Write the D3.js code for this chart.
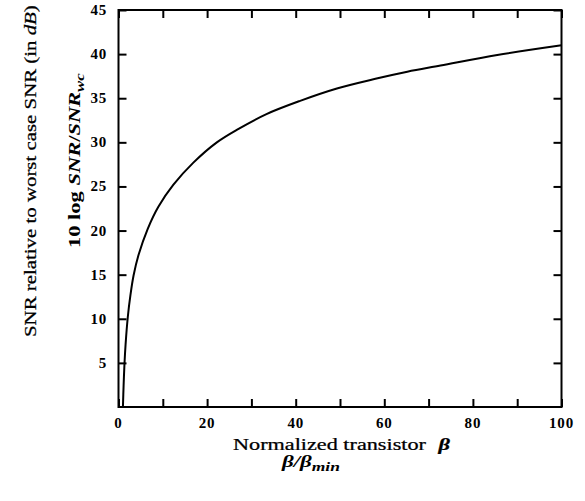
<!DOCTYPE html>
<html>
<head>
<meta charset="utf-8">
<script src="https://cdn.jsdelivr.net/npm/d3@7"></script>
<style>
  html, body { margin: 0; padding: 0; background: #fff; }
  svg { display: block; }
  text { font-family: "Liberation Serif", "Times New Roman", serif; fill: #000; }
</style>
</head>
<body>
<svg id="chart" width="585" height="501"></svg>
<script>
// ---- data ----
const betaValues = [1, 1.15, 1.35, 1.6, 2.1, 2.7, 3.4, 4.5, 6.6, 9, 12.4, 16.9, 22.2, 27, 33.4, 41, 49.3, 58, 65.2, 72.7, 85.5, 100];
const snrValues  = [0, 2.4, 4.9, 7.1, 10.2, 12.7, 14.9, 17.2, 20.2, 22.7, 25.2, 27.7, 30.0, 31.5, 33.2, 34.7, 36.1, 37.2, 38.0, 38.7, 39.9, 41.0];
const xTickValues = [0, 10, 20, 30, 40, 50, 60, 70, 80, 90, 100];
const xTickLabels = [0, 20, 40, 60, 80, 100];
const yTickValues = [5, 10, 15, 20, 25, 30, 35, 40, 45];

const svg = d3.select("#chart");
const m = { left: 118.5, right: 561.5, top: 10, bottom: 407 };

const x = d3.scaleLinear().domain([0, 100]).range([m.left, m.right]);
const y = d3.scaleLinear().domain([0, 45]).range([m.bottom, m.top]);

const tickLen = 8;
const g = svg.append("g");

// frame
g.append("rect")
  .attr("x", m.left).attr("y", m.top)
  .attr("width", m.right - m.left).attr("height", m.bottom - m.top)
  .attr("fill", "none").attr("stroke", "#000").attr("stroke-width", 2);

// ticks on all four sides, pointing inward
g.append("g").attr("transform", `translate(0,${m.bottom})`)
  .call(d3.axisBottom(x).tickValues(xTickValues).tickSize(-tickLen).tickFormat(""));
g.append("g").attr("transform", `translate(0,${m.top})`)
  .call(d3.axisTop(x).tickValues(xTickValues).tickSize(-tickLen).tickFormat(""));
g.append("g").attr("transform", `translate(${m.left},0)`)
  .call(d3.axisLeft(y).tickValues(yTickValues).tickSize(-tickLen).tickFormat(""));
g.append("g").attr("transform", `translate(${m.right},0)`)
  .call(d3.axisRight(y).tickValues(yTickValues).tickSize(-tickLen).tickFormat(""));
g.selectAll(".domain").remove();
g.selectAll(".tick line").attr("stroke", "#000").attr("stroke-width", 2);

// tick labels
g.selectAll(".xlab").data(xTickLabels).enter().append("text")
  .attr("x", d => x(d)).attr("y", 428)
  .attr("text-anchor", "middle")
  .attr("font-size", 15).attr("font-weight", "bold").attr("letter-spacing", 0.8)
  .text(d => d);

g.selectAll(".ylab").data(yTickValues).enter().append("text")
  .attr("x", 107).attr("y", d => y(d) + 5)
  .attr("text-anchor", "end")
  .attr("font-size", 15).attr("font-weight", "bold").attr("letter-spacing", 0.8)
  .text(d => d);

// curve
const line = d3.line()
  .x((d, i) => x(betaValues[i]))
  .y(d => y(d))
  .curve(d3.curveCatmullRom.alpha(0.5));
g.append("path")
  .datum(snrValues)
  .attr("d", line)
  .attr("fill", "none").attr("stroke", "#000").attr("stroke-width", 2);

// widen a text (placed at 0,0) to a target length along its own baseline
function fit(sel, base, target) {
  const w = sel.node().getComputedTextLength();
  sel.attr("transform", `${base} scale(${target / w},1)`);
}

// x axis titles
const xt1 = svg.append("text")
  .attr("font-size", 16).attr("stroke", "#000").attr("stroke-width", 0.25);
xt1.append("tspan").text("Normalized transistor ");
xt1.append("tspan").attr("dx", 5).attr("font-style", "italic").attr("font-weight", "bold").text("β");
fit(xt1, "translate(233,449.5)", 210);

const t2 = svg.append("text")
  .attr("font-size", 17)
  .attr("font-style", "italic").attr("font-weight", "bold");
t2.append("tspan").text("β/β");
t2.append("tspan").attr("font-size", 13).attr("dy", 4).text("min");
fit(t2, "translate(282,467)", 58);

// y axis titles
const yt1 = svg.append("text")
  .attr("font-size", 16).attr("stroke", "#000").attr("stroke-width", 0.25);
yt1.append("tspan").text("SNR relative to worst case SNR (in ");
yt1.append("tspan").attr("font-style", "italic").text("dB");
yt1.append("tspan").text(")");
fit(yt1, "translate(36,337) rotate(-90)", 332);

const yt2 = svg.append("text")
  .attr("font-size", 16).attr("font-weight", "bold");
yt2.append("tspan").text("10 log ");
yt2.append("tspan").attr("font-style", "italic").text("SNR");
yt2.append("tspan").text("/");
yt2.append("tspan").attr("font-style", "italic").text("SNR");
yt2.append("tspan").attr("font-style", "italic").attr("font-size", 12).attr("dy", 4).text("wc");
fit(yt2, "translate(80,248) rotate(-90)", 175);
</script>
</body>
</html>
